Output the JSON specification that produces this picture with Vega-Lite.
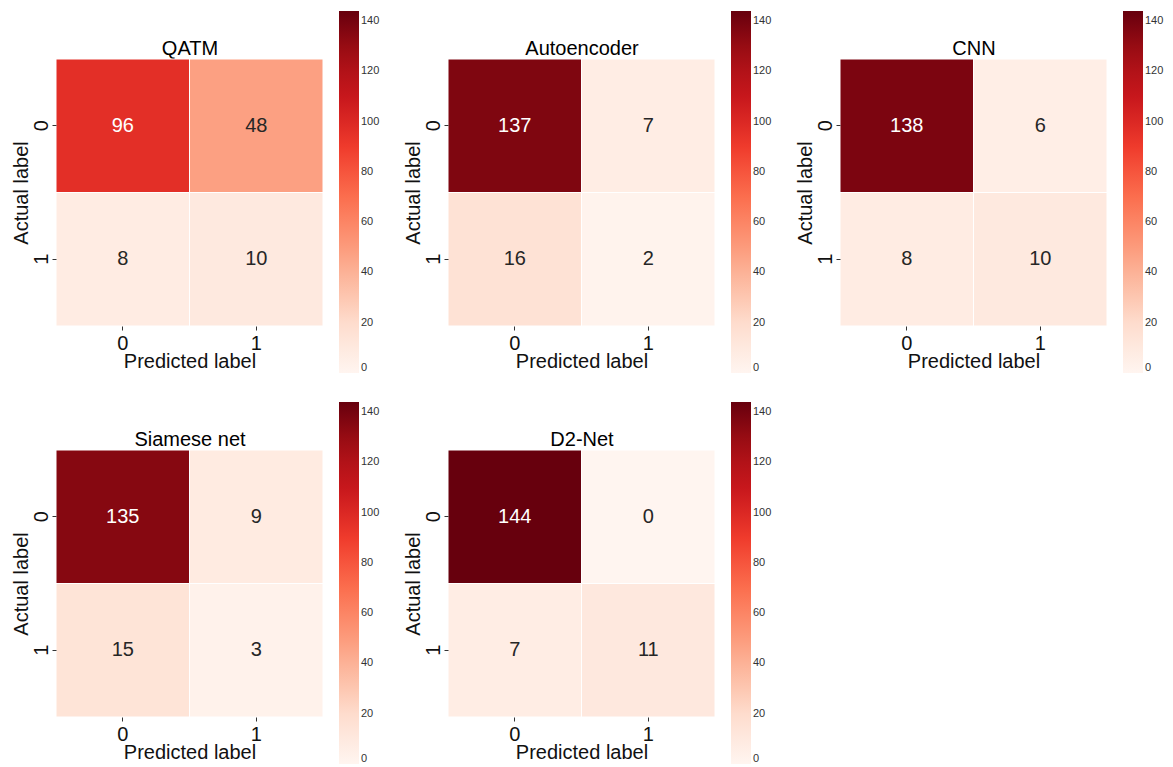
{
  "$schema": "https://vega.github.io/schema/vega-lite/v6.json",
  "background": "white",
  "padding": {"left": 11, "top": 11, "right": 5, "bottom": 0},
  "datasets": {
    "cm": [
      {"model": "QATM", "actual": "0", "pred": "0", "count": 96},
      {"model": "QATM", "actual": "0", "pred": "1", "count": 48},
      {"model": "QATM", "actual": "1", "pred": "0", "count": 8},
      {"model": "QATM", "actual": "1", "pred": "1", "count": 10},
      {"model": "Autoencoder", "actual": "0", "pred": "0", "count": 137},
      {"model": "Autoencoder", "actual": "0", "pred": "1", "count": 7},
      {"model": "Autoencoder", "actual": "1", "pred": "0", "count": 16},
      {"model": "Autoencoder", "actual": "1", "pred": "1", "count": 2},
      {"model": "CNN", "actual": "0", "pred": "0", "count": 138},
      {"model": "CNN", "actual": "0", "pred": "1", "count": 6},
      {"model": "CNN", "actual": "1", "pred": "0", "count": 8},
      {"model": "CNN", "actual": "1", "pred": "1", "count": 10},
      {"model": "Siamese net", "actual": "0", "pred": "0", "count": 135},
      {"model": "Siamese net", "actual": "0", "pred": "1", "count": 9},
      {"model": "Siamese net", "actual": "1", "pred": "0", "count": 15},
      {"model": "Siamese net", "actual": "1", "pred": "1", "count": 3},
      {"model": "D2-Net", "actual": "0", "pred": "0", "count": 144},
      {"model": "D2-Net", "actual": "0", "pred": "1", "count": 0},
      {"model": "D2-Net", "actual": "1", "pred": "0", "count": 7},
      {"model": "D2-Net", "actual": "1", "pred": "1", "count": 11}
    ]
  },
  "data": {"name": "cm"},
  "columns": 3,
  "bounds": "flush",
  "align": "all",
  "spacing": {"row": 124, "column": 125},
  "resolve": {"scale": {"color": "independent"}, "legend": {"color": "independent"}},
  "config": {
    "font": "Liberation Sans",
    "view": {"stroke": null},
    "axis": {
      "domain": false,
      "grid": false,
      "tickSize": 4,
      "tickColor": "#333333",
      "labelFontSize": 20,
      "labelColor": "#111111",
      "titleFontSize": 20,
      "titleFontWeight": "normal",
      "titleColor": "#111111"
    },
    "axisX": {"labelAngle": 0, "titlePadding": -2, "labelPadding": 3},
    "axisY": {"labelAngle": 270, "labelAlign": "center", "labelBaseline": "alphabetic", "labelPadding": 5, "titlePadding": 0},
    "legend": {
      "orient": "none",
      "legendX": 283,
      "legendY": -48,
      "gradientThickness": 20,
      "gradientLength": 362,
      "gradientStrokeWidth": 0,
      "labelFontSize": 11,
      "labelColor": "#333333",
      "labelOffset": 4,
      "labelOverlap": false,
      "title": null
    }
  },
  "concat": [
    {
      "width": 267, "height": 267,
      "transform": [{"filter": "datum.model === 'QATM'"}],
      "resolve": {"axis": {"x": "independent"}},
      "layer": [
        {"mark": {"type": "rect", "stroke": "white", "strokeWidth": 1},
         "encoding": {
           "x": {"field": "pred", "type": "ordinal", "title": "Predicted label", "axis": {"orient": "bottom"}},
           "y": {"field": "actual", "type": "ordinal", "title": "Actual label"},
           "color": {"field": "count", "type": "quantitative", "scale": {"domain": [0, 144], "range": ["#fff5f0", "#fee0d2", "#fcbba1", "#fc9272", "#fb6a4a", "#ef3b2c", "#cb181d", "#a50f15", "#67000d"], "interpolate": "rgb"}, "legend": {"values": [0, 20, 40, 60, 80, 100, 120, 140], "title": null}}}},
        {"mark": {"type": "text", "fontSize": 20},
         "encoding": {
           "x": {"field": "pred", "type": "ordinal", "axis": {"orient": "top", "title": "QATM", "labels": false, "ticks": false, "titlePadding": 1, "titleColor": "#000000"}},
           "y": {"field": "actual", "type": "ordinal"},
           "text": {"field": "count", "type": "quantitative"},
           "color": {"condition": {"test": "datum.count > 70", "value": "white"}, "value": "#262626"}}}
      ]
    },
    {
      "width": 267, "height": 267,
      "transform": [{"filter": "datum.model === 'Autoencoder'"}],
      "resolve": {"axis": {"x": "independent"}},
      "layer": [
        {"mark": {"type": "rect", "stroke": "white", "strokeWidth": 1},
         "encoding": {
           "x": {"field": "pred", "type": "ordinal", "title": "Predicted label", "axis": {"orient": "bottom"}},
           "y": {"field": "actual", "type": "ordinal", "title": "Actual label"},
           "color": {"field": "count", "type": "quantitative", "scale": {"domain": [0, 144], "range": ["#fff5f0", "#fee0d2", "#fcbba1", "#fc9272", "#fb6a4a", "#ef3b2c", "#cb181d", "#a50f15", "#67000d"], "interpolate": "rgb"}, "legend": {"values": [0, 20, 40, 60, 80, 100, 120, 140], "title": null}}}},
        {"mark": {"type": "text", "fontSize": 20},
         "encoding": {
           "x": {"field": "pred", "type": "ordinal", "axis": {"orient": "top", "title": "Autoencoder", "labels": false, "ticks": false, "titlePadding": 1, "titleColor": "#000000"}},
           "y": {"field": "actual", "type": "ordinal"},
           "text": {"field": "count", "type": "quantitative"},
           "color": {"condition": {"test": "datum.count > 70", "value": "white"}, "value": "#262626"}}}
      ]
    },
    {
      "width": 267, "height": 267,
      "transform": [{"filter": "datum.model === 'CNN'"}],
      "resolve": {"axis": {"x": "independent"}},
      "layer": [
        {"mark": {"type": "rect", "stroke": "white", "strokeWidth": 1},
         "encoding": {
           "x": {"field": "pred", "type": "ordinal", "title": "Predicted label", "axis": {"orient": "bottom"}},
           "y": {"field": "actual", "type": "ordinal", "title": "Actual label"},
           "color": {"field": "count", "type": "quantitative", "scale": {"domain": [0, 144], "range": ["#fff5f0", "#fee0d2", "#fcbba1", "#fc9272", "#fb6a4a", "#ef3b2c", "#cb181d", "#a50f15", "#67000d"], "interpolate": "rgb"}, "legend": {"values": [0, 20, 40, 60, 80, 100, 120, 140], "title": null}}}},
        {"mark": {"type": "text", "fontSize": 20},
         "encoding": {
           "x": {"field": "pred", "type": "ordinal", "axis": {"orient": "top", "title": "CNN", "labels": false, "ticks": false, "titlePadding": 1, "titleColor": "#000000"}},
           "y": {"field": "actual", "type": "ordinal"},
           "text": {"field": "count", "type": "quantitative"},
           "color": {"condition": {"test": "datum.count > 70", "value": "white"}, "value": "#262626"}}}
      ]
    },
    {
      "width": 267, "height": 267,
      "transform": [{"filter": "datum.model === 'Siamese net'"}],
      "resolve": {"axis": {"x": "independent"}},
      "layer": [
        {"mark": {"type": "rect", "stroke": "white", "strokeWidth": 1},
         "encoding": {
           "x": {"field": "pred", "type": "ordinal", "title": "Predicted label", "axis": {"orient": "bottom"}},
           "y": {"field": "actual", "type": "ordinal", "title": "Actual label"},
           "color": {"field": "count", "type": "quantitative", "scale": {"domain": [0, 144], "range": ["#fff5f0", "#fee0d2", "#fcbba1", "#fc9272", "#fb6a4a", "#ef3b2c", "#cb181d", "#a50f15", "#67000d"], "interpolate": "rgb"}, "legend": {"values": [0, 20, 40, 60, 80, 100, 120, 140], "title": null}}}},
        {"mark": {"type": "text", "fontSize": 20},
         "encoding": {
           "x": {"field": "pred", "type": "ordinal", "axis": {"orient": "top", "title": "Siamese net", "labels": false, "ticks": false, "titlePadding": 1, "titleColor": "#000000"}},
           "y": {"field": "actual", "type": "ordinal"},
           "text": {"field": "count", "type": "quantitative"},
           "color": {"condition": {"test": "datum.count > 70", "value": "white"}, "value": "#262626"}}}
      ]
    },
    {
      "width": 267, "height": 267,
      "transform": [{"filter": "datum.model === 'D2-Net'"}],
      "resolve": {"axis": {"x": "independent"}},
      "layer": [
        {"mark": {"type": "rect", "stroke": "white", "strokeWidth": 1},
         "encoding": {
           "x": {"field": "pred", "type": "ordinal", "title": "Predicted label", "axis": {"orient": "bottom"}},
           "y": {"field": "actual", "type": "ordinal", "title": "Actual label"},
           "color": {"field": "count", "type": "quantitative", "scale": {"domain": [0, 144], "range": ["#fff5f0", "#fee0d2", "#fcbba1", "#fc9272", "#fb6a4a", "#ef3b2c", "#cb181d", "#a50f15", "#67000d"], "interpolate": "rgb"}, "legend": {"values": [0, 20, 40, 60, 80, 100, 120, 140], "title": null}}}},
        {"mark": {"type": "text", "fontSize": 20},
         "encoding": {
           "x": {"field": "pred", "type": "ordinal", "axis": {"orient": "top", "title": "D2-Net", "labels": false, "ticks": false, "titlePadding": 1, "titleColor": "#000000"}},
           "y": {"field": "actual", "type": "ordinal"},
           "text": {"field": "count", "type": "quantitative"},
           "color": {"condition": {"test": "datum.count > 70", "value": "white"}, "value": "#262626"}}}
      ]
    }
  ]
}
